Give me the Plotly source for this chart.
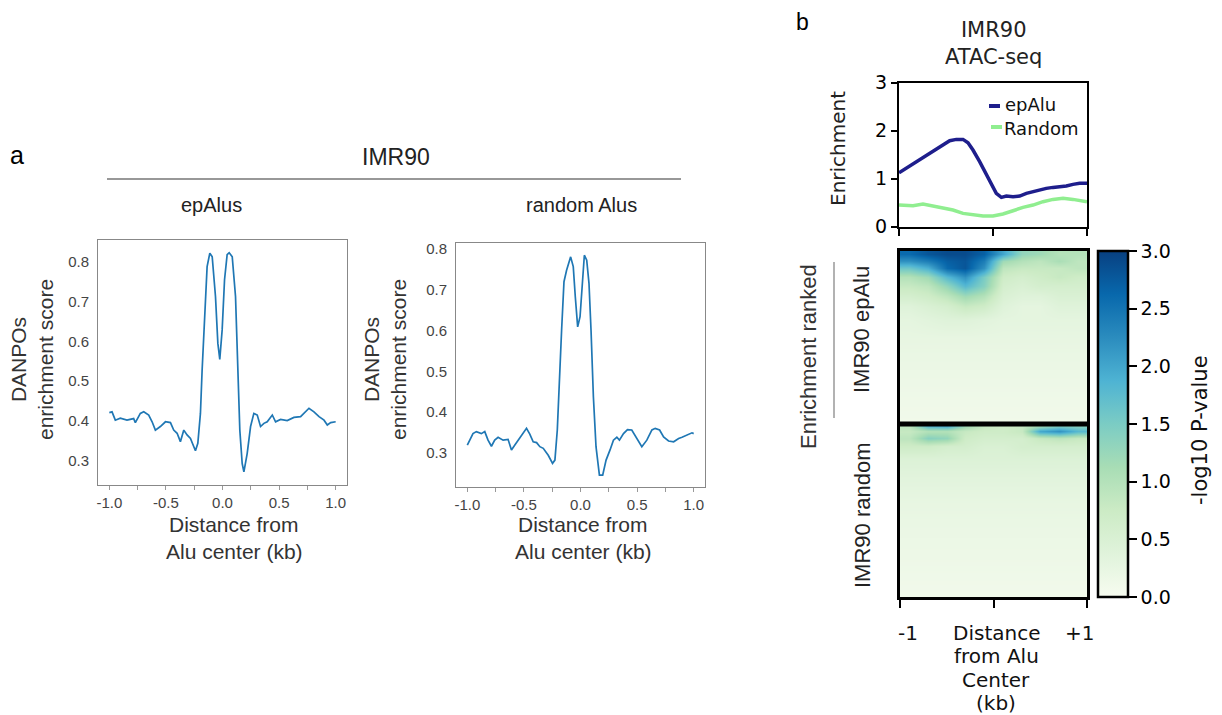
import plotly.graph_objects as go

# ---------------- data ----------------
a_ep_x = [-1.000,-0.976,-0.947,-0.903,-0.844,-0.785,-0.770,-0.726,-0.696,-0.652,-0.622,-0.593,-0.549,-0.504,-0.460,-0.431,-0.401,-0.372,-0.342,-0.313,-0.283,-0.239,-0.218,-0.195,-0.180,-0.159,-0.136,-0.112,-0.091,-0.062,-0.041,-0.024,-0.003,0.018,0.041,0.059,0.086,0.115,0.136,0.153,0.174,0.189,0.218,0.248,0.277,0.307,0.336,0.366,0.395,0.440,0.469,0.513,0.572,0.631,0.690,0.735,0.764,0.808,0.853,0.897,0.926,0.956,1.000]
a_ep_y = [0.421,0.423,0.402,0.407,0.402,0.406,0.396,0.419,0.423,0.415,0.398,0.377,0.386,0.398,0.396,0.377,0.369,0.348,0.377,0.365,0.356,0.325,0.344,0.419,0.528,0.671,0.788,0.822,0.813,0.713,0.595,0.555,0.629,0.755,0.818,0.823,0.813,0.713,0.545,0.377,0.293,0.272,0.318,0.386,0.419,0.415,0.386,0.394,0.398,0.415,0.398,0.404,0.401,0.409,0.411,0.423,0.432,0.423,0.411,0.402,0.390,0.396,0.398]

a_rand_x = [-1.000,-0.979,-0.950,-0.920,-0.876,-0.846,-0.817,-0.787,-0.758,-0.728,-0.684,-0.640,-0.610,-0.580,-0.551,-0.521,-0.477,-0.448,-0.418,-0.388,-0.359,-0.329,-0.285,-0.247,-0.226,-0.205,-0.188,-0.167,-0.146,-0.123,-0.087,-0.064,-0.046,-0.025,-0.004,0.016,0.034,0.055,0.075,0.093,0.114,0.137,0.167,0.196,0.226,0.261,0.291,0.321,0.344,0.380,0.415,0.453,0.498,0.542,0.586,0.631,0.660,0.699,0.734,0.778,0.823,0.867,0.897,0.941,0.985,1.000]
a_rand_y = [0.319,0.331,0.347,0.352,0.347,0.352,0.331,0.316,0.331,0.338,0.331,0.333,0.307,0.319,0.331,0.343,0.360,0.346,0.327,0.325,0.315,0.311,0.294,0.274,0.282,0.356,0.478,0.601,0.720,0.748,0.781,0.757,0.683,0.609,0.634,0.724,0.785,0.773,0.716,0.601,0.437,0.315,0.245,0.245,0.282,0.307,0.331,0.338,0.331,0.347,0.357,0.356,0.335,0.315,0.331,0.356,0.360,0.356,0.339,0.329,0.327,0.335,0.338,0.343,0.349,0.347]

b_ep_x = [-1.000,-0.887,-0.780,-0.674,-0.603,-0.532,-0.461,-0.390,-0.319,-0.266,-0.213,-0.142,-0.071,-0.018,0.035,0.089,0.142,0.213,0.284,0.355,0.426,0.496,0.567,0.638,0.709,0.780,0.851,0.922,1.000]
b_ep_y = [1.125,1.264,1.389,1.514,1.597,1.701,1.792,1.819,1.819,1.750,1.597,1.354,1.076,0.868,0.694,0.611,0.639,0.625,0.639,0.694,0.729,0.778,0.799,0.819,0.833,0.847,0.882,0.903,0.903]

b_rand_x = [-1.000,-0.851,-0.745,-0.638,-0.532,-0.426,-0.319,-0.213,-0.106,0.0,0.106,0.213,0.319,0.426,0.532,0.638,0.745,0.851,0.957,1.000]
b_rand_y = [0.451,0.438,0.472,0.431,0.403,0.347,0.278,0.243,0.222,0.222,0.264,0.333,0.403,0.451,0.521,0.569,0.590,0.569,0.535,0.521]

heat_cols = [-0.9, -0.7, -0.5, -0.3, -0.1, 0.1, 0.3, 0.5, 0.7, 0.9]
heat_ep_rows = [2, 6, 10, 15, 20, 26, 32, 40, 50, 65, 80, 98]
heat_ep_z = [
    [2.6, 2.8, 2.9, 2.9, 2.7, 2.0, 1.3, 1.2, 1.0, 1.0],
    [2.2, 2.4, 2.7, 2.8, 2.4, 1.2, 1.0, 0.9, 1.1, 0.9],
    [1.6, 1.9, 2.6, 2.8, 2.2, 0.9, 0.8, 0.8, 0.8, 0.9],
    [1.0, 1.2, 1.8, 2.2, 1.5, 0.7, 0.6, 0.7, 0.8, 0.7],
    [0.8, 0.9, 1.3, 1.8, 1.4, 0.6, 0.5, 0.6, 0.6, 0.6],
    [0.6, 0.7, 0.9, 1.2, 1.0, 0.5, 0.4, 0.4, 0.5, 0.5],
    [0.4, 0.5, 0.6, 0.8, 0.7, 0.4, 0.3, 0.3, 0.4, 0.4],
    [0.3, 0.35, 0.4, 0.4, 0.35, 0.3, 0.3, 0.3, 0.3, 0.3],
    [0.25, 0.25, 0.25, 0.25, 0.25, 0.25, 0.25, 0.25, 0.25, 0.25],
    [0.2, 0.2, 0.2, 0.2, 0.2, 0.2, 0.2, 0.2, 0.2, 0.2],
    [0.15, 0.15, 0.15, 0.15, 0.15, 0.15, 0.15, 0.15, 0.15, 0.15],
    [0.1, 0.1, 0.1, 0.1, 0.1, 0.1, 0.1, 0.1, 0.1, 0.1],
]
heat_rand_rows = [1, 4, 8, 13, 20, 30, 45, 60, 80, 98]
heat_rand_z = [
    [0.9, 1.8, 1.9, 1.2, 0.8, 0.7, 0.8, 1.2, 1.5, 1.4],
    [0.8, 1.0, 1.0, 0.8, 0.7, 0.7, 0.8, 2.0, 2.2, 1.8],
    [0.9, 1.4, 1.3, 0.7, 0.6, 0.6, 0.6, 0.8, 0.9, 0.8],
    [0.7, 0.7, 0.6, 0.6, 0.5, 0.5, 0.6, 0.6, 0.6, 0.6],
    [0.45, 0.45, 0.45, 0.45, 0.45, 0.45, 0.45, 0.45, 0.45, 0.45],
    [0.35, 0.35, 0.35, 0.35, 0.35, 0.35, 0.35, 0.35, 0.35, 0.35],
    [0.25, 0.25, 0.25, 0.25, 0.25, 0.25, 0.25, 0.25, 0.25, 0.25],
    [0.2, 0.2, 0.2, 0.2, 0.2, 0.2, 0.2, 0.2, 0.2, 0.2],
    [0.15, 0.15, 0.15, 0.15, 0.15, 0.15, 0.15, 0.15, 0.15, 0.15],
    [0.1, 0.1, 0.1, 0.1, 0.1, 0.1, 0.1, 0.1, 0.1, 0.1],
]

a_xticks = [-1.0, -0.75, -0.5, -0.25, 0.0, 0.25, 0.5, 0.75, 1.0]
a_xticklabels = ["-1.0", "", "-0.5", "", "0.0", "", "0.5", "", "1.0"]
a_yticks = [0.3, 0.4, 0.5, 0.6, 0.7, 0.8]
a_xtitle_lines = ["Distance from", "Alu center (kb)"]
b_xticks = [-1, 0, 1]
b_xend_labels = ["-1", "+1"]
b_xtitle_lines = ["Distance", "from Alu", "Center", "(kb)"]
b_yticks = [0, 1, 2, 3]
cbar_ticks = [0.0, 0.5, 1.0, 1.5, 2.0, 2.5, 3.0]

# ---------------- layout helpers ----------------
W, H = 1222, 715
def px(x): return x / W
def py(y): return 1 - y / H

FA = "Liberation Sans, Arial, sans-serif"
FD = "DejaVu Sans, sans-serif"
BLUE = "#1f77b4"
NAVY = "#1e1e8c"
LGREEN = "#90ee90"

fig = go.Figure()
fig.add_trace(go.Scatter(x=a_ep_x, y=a_ep_y, mode="lines", line=dict(color=BLUE, width=1.7),
                         xaxis="x", yaxis="y", showlegend=False))
fig.add_trace(go.Scatter(x=a_rand_x, y=a_rand_y, mode="lines", line=dict(color=BLUE, width=1.7),
                         xaxis="x2", yaxis="y2", showlegend=False))
fig.add_trace(go.Scatter(x=b_ep_x, y=b_ep_y, mode="lines", line=dict(color=NAVY, width=3.5),
                         xaxis="x3", yaxis="y3", showlegend=False, name="epAlu"))
fig.add_trace(go.Scatter(x=b_rand_x, y=b_rand_y, mode="lines", line=dict(color=LGREEN, width=3.5),
                         xaxis="x3", yaxis="y3", showlegend=False, name="Random"))
fig.add_trace(go.Heatmap(x=heat_cols, y=heat_ep_rows, z=heat_ep_z, coloraxis="coloraxis",
                         zsmooth="best", xaxis="x4", yaxis="y4"))
fig.add_trace(go.Heatmap(x=heat_cols, y=[100 + r for r in heat_rand_rows], z=heat_rand_z,
                         coloraxis="coloraxis", zsmooth="best", xaxis="x4", yaxis="y4"))

a_tickfont = dict(family=FA, size=15, color="#444")
def a_xaxis(d0, d1, anchor):
    return dict(domain=[px(d0), px(d1)], range=[-1.1, 1.1], anchor=anchor, automargin=False,
                tickvals=a_xticks, ticktext=a_xticklabels, ticks="outside", ticklen=4,
                tickcolor="#999", tickfont=a_tickfont, showline=True, mirror=True,
                linecolor="#888", linewidth=1, showgrid=False, zeroline=False)
def a_yaxis(d0, d1, rng, anchor):
    return dict(domain=[py(d1), py(d0)], range=rng, anchor=anchor, automargin=False,
                tickvals=a_yticks, ticktext=["%.1f" % v for v in a_yticks],
                ticks="outside", ticklen=5, tickcolor="rgba(0,0,0,0)", tickfont=a_tickfont,
                showline=True, mirror=True, linecolor="#888", linewidth=1,
                showgrid=False, zeroline=False)

fig.update_layout(
    width=W, height=H, autosize=False, margin=dict(l=0, r=0, t=0, b=0, pad=0),
    paper_bgcolor="white", plot_bgcolor="white", showlegend=False,
    xaxis=a_xaxis(98, 347, "y"),
    yaxis=a_yaxis(240, 485, [0.239, 0.855], "x"),
    xaxis2=a_xaxis(456, 705, "y2"),
    yaxis2=a_yaxis(243, 487, [0.216, 0.815], "x2"),
    xaxis3=dict(domain=[px(899), px(1087)], range=[-1, 1], anchor="y3", automargin=False,
                tickvals=b_xticks, ticktext=["", "", ""], ticks="outside", ticklen=7,
                tickwidth=2, tickcolor="black", showline=True, mirror=True,
                linecolor="black", linewidth=2, showgrid=False, zeroline=False),
    yaxis3=dict(domain=[py(226.7), py(82.7)], range=[0, 3], anchor="x3", automargin=False,
                tickvals=b_yticks, ticktext=[str(v) for v in b_yticks], ticks="outside",
                ticklen=6, tickwidth=2, tickcolor="black",
                tickfont=dict(family=FD, size=19, color="black"),
                showline=True, mirror=True, linecolor="black", linewidth=2,
                showgrid=False, zeroline=False),
    xaxis4=dict(domain=[px(900), px(1087)], range=[-1, 1], anchor="y4", automargin=False,
                tickvals=b_xticks, ticktext=["", "", ""], ticks="outside", ticklen=8,
                tickwidth=2, tickcolor="black",
                showline=True, mirror=True, linecolor="black", linewidth=3,
                showgrid=False, zeroline=False),
    yaxis4=dict(domain=[py(597), py(251)], range=[200, 0], anchor="x4", automargin=False,
                showticklabels=False, ticks="", showline=True, mirror=True,
                linecolor="black", linewidth=3, showgrid=False, zeroline=False),
    coloraxis=dict(colorscale="GnBu", cmin=0, cmax=3,
                   colorbar=dict(x=px(1098), xanchor="left", y=py(251), yanchor="top",
                                 len=346 / H, lenmode="fraction", thickness=30,
                                 xpad=0, ypad=0, outlinecolor="black", outlinewidth=2.5,
                                 tickvals=cbar_ticks, ticktext=["%.1f" % v for v in cbar_ticks],
                                 ticks="outside", ticklen=8, tickwidth=2, tickcolor="black",
                                 tickfont=dict(family=FD, size=19, color="black"))),
)

shapes = [
    dict(type="line", xref="paper", yref="paper", x0=px(107), x1=px(681), y0=py(179), y1=py(179),
         line=dict(color="#333", width=1.2)),
    dict(type="line", xref="x4", yref="y4", x0=-1, x1=1, y0=100, y1=100,
         line=dict(color="black", width=5)),
    dict(type="line", xref="paper", yref="paper", x0=px(834), x1=px(834), y0=py(262), y1=py(418),
         line=dict(color="#999", width=1.5)),
    dict(type="line", xref="paper", yref="paper", x0=px(989), x1=px(1000), y0=py(106), y1=py(106),
         line=dict(color=NAVY, width=4)),
    dict(type="line", xref="paper", yref="paper", x0=px(991), x1=px(1002), y0=py(127), y1=py(127),
         line=dict(color=LGREEN, width=4)),
]
fig.update_layout(shapes=shapes)

def ann(text, x, y, size, family, color="black", angle=0, xanchor="center"):
    return dict(text=text, x=px(x), y=py(y), xref="paper", yref="paper", showarrow=False,
                xanchor=xanchor, yanchor="middle", textangle=angle,
                font=dict(family=family, size=size, color=color))

annotations = [
    ann("a", 17, 155, 25, FA),
    ann("IMR90", 396, 157, 23, FA, "#222"),
    ann("epAlus", 211, 205, 20, FA, "#222"),
    ann("random Alus", 581, 205, 20, FA, "#222"),
    ann("DANPOs<br>enrichment score", 32, 360, 21, FA, "#333", -90),
    ann("DANPOs<br>enrichment score", 385, 360, 21, FA, "#333", -90),
    ann("b", 803, 22, 23, FA),
    ann("IMR90<br>ATAC-seq", 993, 43, 21, FD, "#222"),
    ann("Enrichment", 838, 149, 20, FD, "#222", -90),
    ann("epAlu", 1003, 104, 18, FD, "#111", xanchor="left"),
    ann("Random", 1002, 129, 18, FD, "#111", xanchor="left"),
    ann("Enrichment ranked", 808, 357, 22, FA, "#333", -90),
    ann("IMR90 epAlu", 862, 329, 22, FA, "#222", -90),
    ann("IMR90 random", 862, 515, 22, FA, "#222", -90),
    ann("-log10 P-value", 1200, 430, 21, FD, "#111", -90),
    ann(b_xend_labels[0], 908, 633, 20, FD, "#111"),
    ann(b_xend_labels[1], 1079, 633, 20, FD, "#111"),
]
for cx in (234, 583):
    for i, line in enumerate(a_xtitle_lines):
        annotations.append(ann(line, cx, 524 + 27.5 * i, 21, FA, "#333"))
for i, line in enumerate(b_xtitle_lines):
    annotations.append(ann(line, 996, 633 + 23.4 * i, 20, FD, "#111"))
fig.update_layout(annotations=annotations)

fig.write_html("out.html", config={"displayModeBar": False},
               post_script="document.body.style.margin='0';document.body.style.padding='0';"
                           "document.documentElement.style.overflow='hidden';")
